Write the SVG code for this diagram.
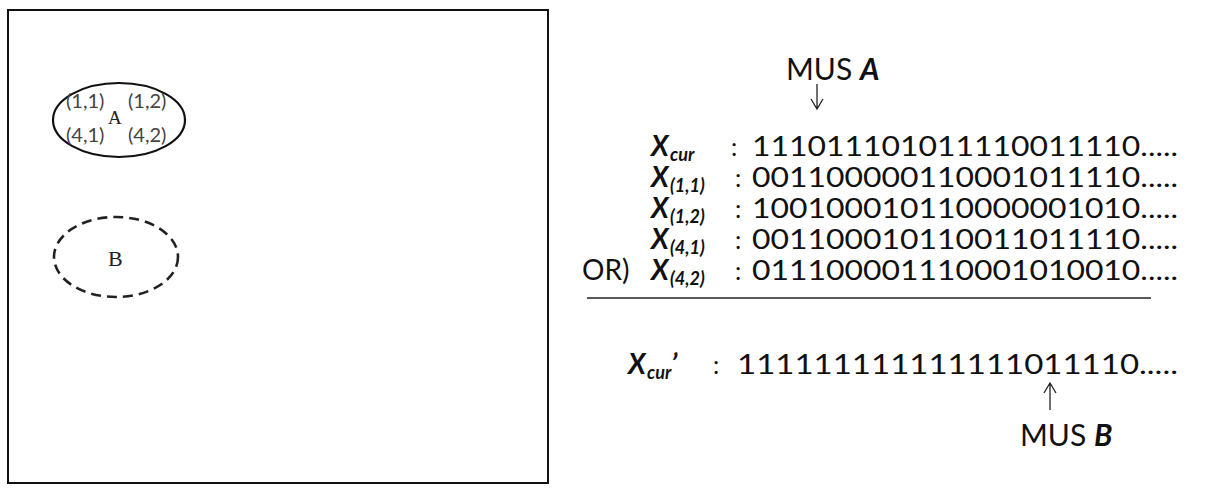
<svg xmlns="http://www.w3.org/2000/svg" width="1219" height="495" viewBox="0 0 1219 495">
<style>
.frame{fill:none;stroke:#111;stroke-width:2}
.ell{fill:none;stroke:#111;stroke-width:2.2}
.dash{fill:none;stroke:#222;stroke-width:2.6;stroke-dasharray:10 6}
.pair{font-family:Lato,"Open Sans",sans-serif;font-size:20px;fill:#444}
.serif{font-family:"Liberation Serif",serif;fill:#222}
.t{font-family:Lato,"Open Sans",sans-serif;fill:#111}
.bits{font-size:27px}
.lab{font-weight:bold;font-style:italic;font-size:28px}
.sub{font-weight:bold;font-style:italic;font-size:18px}
.colon{font-size:25px}
.ar{fill:none;stroke:#222;stroke-width:1.3}
</style>
<rect class="frame" x="8" y="10" width="540" height="473"/>
<g id="nodeA">
<ellipse class="ell" cx="119" cy="120" rx="66" ry="37"/>
<text class="pair" x="66" y="108">(1,1)</text>
<text class="pair" x="128" y="108">(1,2)</text>
<text class="pair" x="66" y="142">(4,1)</text>
<text class="pair" x="128" y="142">(4,2)</text>
<text class="serif" x="108" y="124" font-size="19">A</text>
</g>
<g id="nodeB">
<ellipse class="dash" cx="116" cy="257" rx="62" ry="40"/>
<text class="serif" x="108" y="266" font-size="22">B</text>
</g>
<g id="musA">
<text class="t" x="786" y="80" font-size="30">MUS <tspan font-weight="bold" font-style="italic">A</tspan></text>
</g>
<g id="rows" class="t">
<text class="lab" x="651" y="156">X</text><text class="sub" x="670" y="161">cur</text>
<text class="colon" x="731" y="156">:</text>
<text class="bits" x="752" y="156" textLength="426" lengthAdjust="spacingAndGlyphs">111011101011110011110.....</text>
<text class="lab" x="651" y="187">X</text><text class="sub" x="670" y="192">(1,1)</text>
<text class="colon" x="735" y="187">:</text>
<text class="bits" x="752" y="187" textLength="426" lengthAdjust="spacingAndGlyphs">001100000110001011110.....</text>
<text class="lab" x="651" y="218">X</text><text class="sub" x="670" y="223">(1,2)</text>
<text class="colon" x="735" y="218">:</text>
<text class="bits" x="752" y="218" textLength="426" lengthAdjust="spacingAndGlyphs">100100010110000001010.....</text>
<text class="lab" x="651" y="249">X</text><text class="sub" x="670" y="254">(4,1)</text>
<text class="colon" x="735" y="249">:</text>
<text class="bits" x="752" y="249" textLength="426" lengthAdjust="spacingAndGlyphs">001100010110011011110.....</text>
<text x="582" y="280" font-size="28">OR)</text>
<text class="lab" x="651" y="280">X</text><text class="sub" x="670" y="285">(4,2)</text>
<text class="colon" x="735" y="280">:</text>
<text class="bits" x="752" y="280" textLength="426" lengthAdjust="spacingAndGlyphs">011100001110001010010.....</text>
<line x1="587" y1="298" x2="1151" y2="298" stroke="#222" stroke-width="1.5"/>
<text class="lab" x="628" y="374">X</text><text class="sub" x="647" y="379">cur<tspan class="lab" dy="-5" font-size="24">’</tspan></text>
<text class="colon" x="713" y="374">:</text>
<text class="bits" x="737" y="374" textLength="441" lengthAdjust="spacingAndGlyphs">111111111111111011110.....</text>
</g>
<g id="musB">
<text class="t" x="1020" y="446" font-size="30">MUS <tspan font-weight="bold" font-style="italic">B</tspan></text>
</g>
<g id="connectors">
<path class="ar" d="M817,84 V108 M811,99 L817,109 L823,99"/>
<path class="ar" d="M1050,410 V384 M1044,393 L1050,383 L1056,393"/>
</g>
</svg>
